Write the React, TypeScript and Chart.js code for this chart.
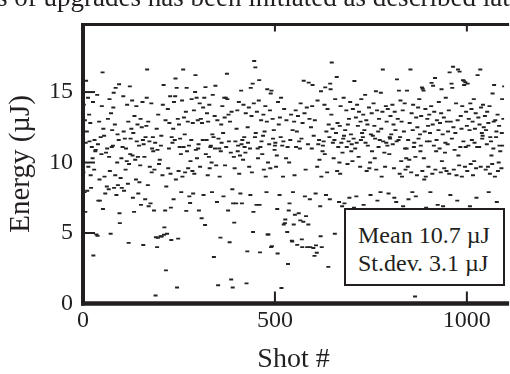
import React, { useEffect, useRef } from "react";
import { Chart, registerables } from "chart.js";

Chart.register(...registerables);

// Pulse energy (µJ) per shot; shot # = index, null = no point recorded for that shot
const energies: (number | null)[] = [
  // 0-99
  null, 9.3, 14.1, null, 7.9, 13.0, 6.5, 11.4, 15.8, null,
  12.2, 8.0, null, 14.6, 9.7, null, 13.4, 11.5, null, 12.8,
  9.1, 8.2, null, 11.1, null, 10.3, 14.3, 3.4, null, 9.5,
  11.6, null, 10.8, 10.9, null, 4.9, null, 14.8, 4.8, 11.3,
  7.3, null, 12.9, 8.8, 7.3, null, 11.8, null, 10.6, 14.0,
  null, 16.4, 6.7, 12.4, null, 11.9, 9.0, null, 7.8, null,
  10.7, null, 8.3, 11.0, null, 13.1, null, 8.1, 10.4, 14.5,
  9.4, null, 4.95, 13.5, null, 11.1, 12.3, null, 11.2, 13.9,
  14.95, 8.2, null, 12.7, 9.1, 15.3, null, 7.7, null, 10.0,
  12.0, 8.4, null, 11.6, 15.55, 6.4, 5.7, null, 8.9, null,
  // 100-199
  10.3, 8.2, null, 11.1, null, 14.7, 12.2, 8.0, null, 11.7,
  null, 9.5, 11.0, null, 10.1, 14.1, null, 8.5, 12.9, 4.3,
  9.9, null, 15.4, 10.6, 11.7, null, 12.4, null, 14.4, 10.5,
  7.5, 12.1, null, 6.5, 13.3, null, 10.2, null, 8.8, 14.0,
  11.5, null, 12.7, 10.4, 7.8, null, 11.2, 8.6, null, 9.8,
  13.1, 7.0, null, 12.5, null, 14.3, 11.6, 4.15, 11.3, null,
  10.4, null, 7.4, 11.8, null, 12.6, 14.6, 16.6, null, 8.4,
  12.9, 6.9, null, 11.5, 9.7, null, 7.1, null, 14.2, 9.3,
  11.0, null, 11.8, 10.8, null, 6.6, 9.5, null, 11.4, 0.57,
  4.7, null, 12.4, 4.0, 10.9, 4.66, 13.4, null, 9.9, null,
  // 200-299
  10.2, null, 4.77, 11.2, 11.9, 4.75, null, 9.1, 14.1, null,
  15.5, 4.88, 5.4, null, 6.6, 13.0, 2.35, 8.3, null, 4.95,
  null, 13.8, 9.6, null, 11.0, 12.8, null, 14.7, 9.2, 6.8,
  4.5, 11.8, null, 11.4, null, 12.4, 7.4, 14.3, null, 11.6,
  14.7, 15.96, 8.8, null, 15.3, 1.13, null, 13.1, 4.6, 9.4,
  12.7, null, 11.1, 11.7, null, 10.6, 7.9, null, 14.4, 9.0,
  null, 16.6, 11.1, 13.2, null, 12.0, 9.3, null, 13.6, 6.57,
  15.3, 10.8, null, 12.9, 9.6, null, 11.2, 7.6, null, 7.13,
  10.1, null, 11.6, 14.5, null, 9.4, 12.8, 7.8, null, 13.7,
  9.2, null, 15.0, 16.2, 10.9, null, 14.6, 10.3, null, 13.0,
  // 300-399
  11.0, 11.3, 6.6, null, 14.2, 9.7, null, 13.1, null, 6.05,
  12.8, null, 11.6, 13.9, 7.7, null, 14.6, null, 5.57, 15.35,
  10.6, null, 11.6, 13.5, null, 9.1, 12.9, null, 10.4, 14.1,
  9.6, null, 11.1, 11.2, null, 10.0, 7.9, 12.0, 14.8, null,
  11.8, 3.3, null, 13.3, 11.0, 15.45, null, 9.8, null, 7.2,
  13.0, null, 1.3, 11.7, null, 11.0, 9.0, null, 4.67, 10.8,
  12.7, 11.4, null, 14.0, null, 12.1, 7.6, null, 14.6, 13.2,
  9.8, null, 14.6, 11.1, null, 16.3, 14.5, null, 6.6, 13.4,
  11.5, null, 4.35, 12.9, null, 10.7, 1.7, 13.6, null, 8.1,
  1.13, 7.1, null, 10.4, 5.74, 9.6, null, 11.5, null, 7.1,
  // 400-499
  12.4, null, 13.7, 10.8, 11.2, null, 14.3, 9.2, null, 10.5,
  7.8, null, 15.1, 11.3, 7.1, 11.6, null, 10.2, 14.1, null,
  11.8, 11.1, null, 10.7, 13.5, null, 1.43, null, 3.7, 12.5,
  11.4, null, 13.9, 9.7, null, 11.0, 7.7, 15.3, null, 13.3,
  9.3, null, 15.6, 5.07, 6.5, 14.2, 17.2, null, 11.8, 16.75,
  12.1, null, 7.0, 13.6, null, 11.0, 10.3, null, 14.4, 15.85,
  7.0, 3.63, 11.1, null, 13.0, 11.5, null, 10.6, null, 11.9,
  13.4, 9.5, null, 12.2, null, 14.0, 9.0, null, 7.9, 12.9,
  15.2, 4.9, 10.0, 4.9, null, 11.3, null, 13.7, 9.6, 14.9,
  4.0, 15.1, 4.06, null, 13.1, 11.7, null, 12.3, null, 10.9,
  // 500-599
  11.2, 11.4, null, 9.7, null, 10.5, 6.7, 3.55, 14.3, null,
  12.7, null, 7.7, 13.2, null, 11.8, 14.6, 1.1, null, 11.2,
  null, 9.0, 11.5, 5.6, 13.8, null, 5.7, 5.96, null, 10.3,
  13.0, null, 5.07, 11.1, 2.8, null, 6.6, 10.0, 7.1, null,
  11.6, null, 13.4, null, 4.46, 4.4, 12.3, 7.9, null, 5.6,
  12.9, 9.1, 6.3, null, 13.7, 11.1, null, 12.2, 4.16, null,
  13.3, null, 6.4, 11.5, null, 11.0, 5.9, 14.2, null, 11.7,
  4.55, 4.0, 12.8, null, 5.8, 15.8, null, 13.5, 7.6, null,
  9.5, 6.2, null, 13.9, 4.0, null, 11.3, 5.6, 15.67, null,
  13.1, 7.4, 4.0, null, 12.5, null, 11.0, 14.0, 15.5, null,
  // 600-699
  3.94, 11.9, null, 3.38, 13.0, null, 7.8, 4.12, null, 3.6,
  9.7, 14.4, null, 11.3, null, 11.6, 10.2, null, 6.9, 4.77,
  15.06, 9.0, 4.0, null, 10.8, 11.2, null, 11.5, null, 14.1,
  10.6, 15.33, null, 7.7, 12.2, null, 9.3, 13.8, null, 2.6,
  12.7, null, 11.8, 7.4, 15.6, 15.2, null, 13.4, 17.1, null,
  12.4, 11.4, null, 10.3, null, 11.6, 4.95, 14.5, null, 12.1,
  null, 16.07, 9.4, 12.8, null, 11.1, null, 7.2, 10.0, 12.6,
  9.2, 14.0, null, 11.4, null, 6.9, 10.7, null, 11.7, 14.6,
  11.9, 7.1, null, 12.3, null, 4.6, 13.7, 11.1, null, 9.9,
  12.7, null, 11.5, 13.1, 7.5, null, 14.3, null, 12.0, 10.8,
  // 700-799
  11.3, null, 10.1, 13.8, null, 11.7, 6.8, 15.78, null, 11.0,
  null, 13.2, 7.6, 11.4, 14.1, null, 12.6, null, 10.4, 13.6,
  3.9, null, 9.7, 12.9, 11.6, 14.5, null, 12.1, null, 11.8,
  13.4, 7.0, null, 12.3, null, 14.8, 11.4, null, 13.0, 9.4,
  null, 12.7, 11.2, null, 6.6, 13.9, 9.6, null, 10.0, 7.7,
  12.0, null, 13.5, 10.8, null, 11.9, 5.2, 14.2, null, 12.6,
  10.3, 11.7, null, 15.06, 9.5, null, 13.7, 7.3, null, 12.2,
  11.1, 13.1, null, 11.6, null, 7.9, 14.95, 12.4, 9.0, null,
  13.6, 16.6, 11.5, null, 6.7, 10.7, null, 9.7, null, 14.0,
  11.4, 12.9, null, 11.2, 13.8, null, 7.8, null, 10.6, 11.8,
  // 800-899
  11.7, 13.3, null, 12.0, null, 4.2, 14.1, 11.3, null, 12.7,
  9.6, 7.5, 13.6, null, 12.3, null, 7.2, 11.5, 15.9, null,
  13.1, null, 11.6, 15.1, null, 9.2, 11.8, 14.4, null, 10.1,
  12.9, 9.0, null, 13.7, 6.9, null, 12.2, null, 14.2, 11.0,
  9.5, null, 10.3, 11.0, 15.1, null, 9.7, 11.6, 7.4, null,
  10.2, 12.8, null, 16.6, null, 9.3, 13.5, null, 7.9, 12.3,
  14.1, null, 11.1, 11.4, null, 0.5, 10.4, 7.6, 13.2, null,
  9.1, 12.5, null, 13.9, 11.7, null, 14.5, null, 12.0, 10.8,
  11.2, 13.3, null, 15.33, 9.4, 15.24, null, 15.1, 10.3, 8.8,
  12.2, null, 13.8, 9.0, 6.8, null, 11.5, 13.1, null, 12.6,
  // 900-999
  9.7, null, 13.4, 11.5, 12.1, 7.9, null, 14.0, 15.65, null,
  9.2, 12.7, 15.45, null, 11.2, 13.6, null, 16.0, 9.5, null,
  10.8, 11.6, 13.0, null, 7.0, null, 12.3, 14.3, null, 11.0,
  12.8, null, 9.3, 13.5, 15.2, 10.1, null, 12.0, 6.9, null,
  13.2, 9.6, null, 10.7, 11.4, 14.6, null, 9.4, 12.9, null,
  11.3, 12.2, null, 13.7, 9.2, 16.4, null, 7.7, 12.9, null,
  15.6, 11.7, 15.3, null, 16.8, 12.5, 9.5, null, 10.9, null,
  12.1, null, 14.2, 9.1, null, 7.3, 13.0, 16.6, 10.5, null,
  9.8, 16.45, null, 11.1, 13.3, null, 12.4, 9.0, 14.0, null,
  15.85, 11.5, 15.8, 15.5, null, 9.7, 15.7, 11.1, 13.6, null,
  // 1000-1099
  12.6, 9.4, 15.6, null, 11.2, 13.1, null, 12.3, 6.9, 14.2,
  9.9, null, 13.8, 11.6, null, 12.9, 9.1, null, 14.5, 10.1,
  11.4, 12.4, null, 13.5, 9.6, 7.5, null, 11.1, 16.2, null,
  13.2, null, 11.1, 12.7, null, 16.6, 9.7, 13.9, null, 12.1,
  11.7, 11.9, 14.1, null, 12.5, null, 6.7, 13.3, null, 9.5,
  12.3, null, 11.3, 13.6, null, 9.7, 12.8, 7.9, null, 14.0,
  9.2, 11.8, null, 11.5, 10.5, null, 9.9, 14.9, null, 11.0,
  12.9, 15.5, null, 9.0, 13.0, null, 11.8, 12.2, 7.2, null,
  13.4, 9.4, null, 10.0, 12.6, 11.2, null, 10.8, 5.2, null,
  9.6, 12.1, 14.5, null, 11.2, 13.1, null, 15.4, 9.3, null,
];

const xTickValues = [0, 500, 1000];
const yTickValues = [0, 5, 10, 15];
const xTitle = "Shot #";
const yTitle = "Energy (\u00b5J)";
const statLines = ["Mean 10.7 \u00b5J", "St.dev. 3.1 \u00b5J"];
const topText = "s of upgrades has been initiated as described late";

const INK = "#231f20";
const FONT = "'Liberation Serif', 'Times New Roman', serif";

export default function App() {
  const canvasRef = useRef<HTMLCanvasElement | null>(null);

  useEffect(() => {
    document.body.style.margin = "0";
    const canvas = canvasRef.current;
    if (!canvas) return;

    const points = energies
      .map((e, i) => ({ x: i, y: e }))
      .filter((p) => p.y !== null);

    const framePlugin = {
      id: "frame",
      afterDatasetsDraw(chart: any) {
        const { ctx, chartArea, scales } = chart;
        const { left, top, bottom, right } = chartArea;
        ctx.save();
        ctx.strokeStyle = INK;
        ctx.lineWidth = 3;
        ctx.beginPath();
        ctx.moveTo(left - 2, top);
        ctx.lineTo(right + 5, top);
        ctx.stroke();
        ctx.lineWidth = 4;
        ctx.beginPath();
        ctx.moveTo(left, top - 1.5);
        ctx.lineTo(left, bottom + 2);
        ctx.stroke();
        ctx.lineWidth = 4.5;
        ctx.beginPath();
        ctx.moveTo(left - 2, bottom);
        ctx.lineTo(right + 5, bottom);
        ctx.stroke();
        ctx.lineWidth = 2;
        for (const v of xTickValues) {
          if (v === 0) continue;
          const px = scales.x.getPixelForValue(v);
          ctx.beginPath();
          ctx.moveTo(px, bottom);
          ctx.lineTo(px, bottom - 12);
          ctx.moveTo(px, top);
          ctx.lineTo(px, top + 7);
          ctx.stroke();
        }
        for (const v of yTickValues) {
          if (v === 0) continue;
          const py = scales.y.getPixelForValue(v);
          ctx.beginPath();
          ctx.moveTo(left, py);
          ctx.lineTo(left + 12, py);
          ctx.stroke();
        }
        ctx.restore();
      },
    };

    const chart = new Chart(canvas, {
      type: "scatter",
      data: {
        datasets: [
          {
            data: points,
            pointStyle: "line",
            pointRadius: 2,
            pointBorderWidth: 1.9,
            pointBorderColor: "#232323",
            pointBackgroundColor: "#232323",
            showLine: false,
          } as any,
        ],
      },
      options: {
        animation: false,
        responsive: false,
        devicePixelRatio: 1,
        events: [],
        layout: { padding: { top: 10.5, left: 0, right: 0, bottom: 0 } },
        plugins: {
          legend: { display: false },
          tooltip: { enabled: false },
        },
        scales: {
          x: {
            type: "linear",
            min: 0,
            max: 1097,
            grid: { display: false, drawTicks: false },
            border: { display: false },
            afterBuildTicks: (s: any) => {
              s.ticks = xTickValues.map((v) => ({ value: v }));
            },
            ticks: {
              includeBounds: false,
              autoSkip: false,
              maxRotation: 0,
              padding: 3,
              color: INK,
              font: { family: FONT, size: 24 },
              callback: (v: any) => String(v),
            },
            title: {
              display: true,
              text: xTitle,
              color: INK,
              padding: 0,
              font: { family: FONT, size: 28, lineHeight: 1.0 },
            },
            afterFit: (s: any) => {
              s.height = 70.5;
            },
          },
          y: {
            type: "linear",
            min: 0,
            max: 19.8,
            grid: { display: false, drawTicks: false },
            border: { display: false },
            afterBuildTicks: (s: any) => {
              s.ticks = yTickValues.map((v) => ({ value: v }));
            },
            ticks: {
              includeBounds: false,
              autoSkip: false,
              padding: 10,
              color: INK,
              font: { family: FONT, size: 24 },
              callback: (v: any) => String(v),
            },
            title: {
              display: true,
              text: yTitle,
              color: INK,
              padding: 0,
              font: { family: FONT, size: 29, lineHeight: 1.45 },
            },
            afterFit: (s: any) => {
              s.width = 83;
            },
          },
        },
      },
      plugins: [framePlugin],
    });

    return () => {
      chart.destroy();
    };
  }, []);

  return (
    <div
      style={{
        position: "relative",
        width: 510,
        height: 374,
        overflow: "hidden",
        background: "#fff",
      }}
    >
      <canvas
        ref={canvasRef}
        width={510}
        height={374}
        style={{ position: "absolute", left: 0, top: 0, width: 510, height: 374 }}
      />
      <div
        style={{
          position: "absolute",
          left: -3,
          top: -16.5,
          fontFamily: FONT,
          fontSize: 27,
          lineHeight: "27px",
          whiteSpace: "nowrap",
          color: INK,
        }}
      >
        {topText}
      </div>
      <div
        style={{
          position: "absolute",
          left: 344,
          top: 208,
          width: 161,
          height: 78,
          boxSizing: "border-box",
          border: `2px solid ${INK}`,
          background: "#fff",
          paddingTop: 11,
          paddingLeft: 12,
          fontFamily: FONT,
          fontSize: 24,
          lineHeight: "28px",
          color: INK,
          whiteSpace: "nowrap",
        }}
      >
        {statLines.map((l) => (
          <div key={l}>{l}</div>
        ))}
      </div>
    </div>
  );
}
